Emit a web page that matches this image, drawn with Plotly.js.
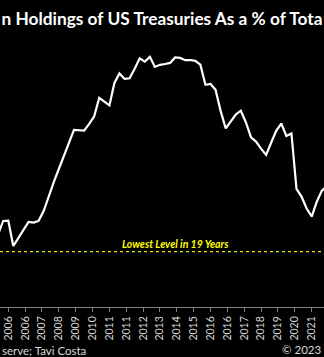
<!DOCTYPE html>
<html>
<head>
<meta charset="utf-8">
<script src="https://cdn.plot.ly/plotly-3.0.1.min.js"></script>
<style>html,body{margin:0;padding:0;background:#000;}#chart{width:324px;height:357px;}</style>
</head>
<body>
<div id="chart"></div>
<script>
// Quarterly observations (foreign share of total, %)
var dates = ['2005-07-01','2005-10-01','2006-01-01','2006-04-01','2006-07-01','2006-10-01',
  '2007-01-01','2007-04-01','2007-07-01','2007-10-01','2008-01-01','2008-04-01','2008-07-01','2008-10-01',
  '2009-01-01','2009-04-01','2009-07-01','2009-10-01','2010-01-01','2010-04-01','2010-07-01','2010-10-01',
  '2011-01-01','2011-04-01','2011-07-01','2011-10-01','2012-01-01','2012-04-01','2012-07-01','2012-10-01',
  '2013-01-01','2013-04-01','2013-07-01','2013-10-01','2014-01-01','2014-04-01','2014-07-01','2014-10-01',
  '2015-01-01','2015-04-01','2015-07-01','2015-10-01','2016-01-01','2016-04-01','2016-07-01','2016-10-01',
  '2017-01-01','2017-04-01','2017-07-01','2017-10-01','2018-01-01','2018-04-01','2018-07-01','2018-10-01',
  '2019-01-01','2019-04-01','2019-07-01','2019-10-01','2020-01-01','2020-04-01','2020-07-01','2020-10-01',
  '2021-01-01','2021-04-01','2021-07-01','2021-10-01'];
var foreignShare = [25.57,26.19,26.20,25.00,25.37,25.73,
  26.14,26.11,26.19,26.66,27.40,28.04,28.66,29.30,
  29.92,30.52,30.50,30.48,30.80,31.16,32.04,31.87,
  31.68,32.75,33.20,32.94,32.97,33.42,33.92,33.76,
  33.99,33.51,33.61,33.65,33.70,33.96,33.94,33.83,
  33.84,33.80,33.62,32.66,32.70,32.42,31.42,30.59,
  30.94,31.25,31.43,30.87,30.16,29.96,29.63,29.33,
  29.92,30.47,30.82,30.23,30.35,27.71,27.35,26.78,
  26.40,27.09,27.62,27.85];
var lowestLevel = 24.73;
var lowestLabel = 'Lowest Level in 19 Years';

var tickDates = ['2006-01-01','2006-11-01','2007-09-01','2008-07-01','2009-05-01','2010-03-01',
  '2011-01-01','2011-11-01','2012-09-01','2013-07-01','2014-05-01','2015-03-01','2016-01-01',
  '2016-11-01','2017-09-01','2018-07-01','2019-05-01','2020-03-01','2021-01-01'];
var tickLabels = ['2006','2006','2007','2008','2009','2010','2011','2011','2012','2013','2014',
  '2015','2016','2016','2017','2018','2019','2020','2021'];

var titleText = 'n Holdings of US Treasuries As a % of Tota';
var sourceText = 'serve; Tavi Costa';
var copyrightText = '\u00A9 2023';

var FONT = 'Lato, "Liberation Sans", Arial, sans-serif';

var trace = {
  x: dates, y: foreignShare, type: 'scatter', mode: 'lines',
  line: {color: '#ffffff', width: 2.2, shape: 'linear'},
  hoverinfo: 'skip'
};

var layout = {
  width: 324, height: 357,
  margin: {l: 0, r: 0, t: 40, b: 50, pad: 0},
  paper_bgcolor: '#000000', plot_bgcolor: '#000000',
  showlegend: false,
  title: {text: titleText, font: {family: FONT, size: 17.3, color: '#ffffff', weight: 'bold'},
          x: 0.5, xanchor: 'center', y: 1 - 19/357, yanchor: 'middle', xref: 'container', yref: 'container'},
  xaxis: {
    type: 'date', range: ['2005-08-04', '2021-08-11'],
    tickmode: 'array', tickvals: tickDates, ticktext: tickLabels,
    tickangle: -90, ticks: 'outside', ticklen: 4, tickcolor: '#808080', tickwidth: 1,
    tickfont: {family: FONT, size: 10.5, color: '#d9d9d9'},
    showline: true, linecolor: '#808080', linewidth: 1,
    showgrid: false, zeroline: false, fixedrange: true
  },
  yaxis: {
    range: [22.10, 34.79], visible: false, showgrid: false, zeroline: false, fixedrange: true
  },
  shapes: [{
    type: 'line', xref: 'paper', x0: 0, x1: 1, yref: 'y', y0: lowestLevel, y1: lowestLevel,
    line: {color: '#e6e600', width: 1.4, dash: '3px,3px'}
  }],
  annotations: [
    {text: '<b><i>' + lowestLabel + '</i></b>', xref: 'paper', x: 175.7/324, xanchor: 'center',
     yref: 'y', y: 25.10, yanchor: 'middle', showarrow: false,
     font: {family: FONT, size: 10.5, color: '#ffff00'}},
    {text: sourceText, xref: 'paper', x: 0, xanchor: 'left', yref: 'paper', y: (307-350)/267, yanchor: 'middle',
     showarrow: false, font: {family: FONT, size: 11.5, color: '#d9d9d9'}},
    {text: copyrightText, xref: 'paper', x: 1, xanchor: 'right', yref: 'paper', y: (307-349)/267, yanchor: 'middle',
     showarrow: false, font: {family: FONT, size: 11.5, color: '#d9d9d9'}}
  ]
};

Plotly.newPlot('chart', [trace], layout, {staticPlot: true, displayModeBar: false});
</script>
</body>
</html>
